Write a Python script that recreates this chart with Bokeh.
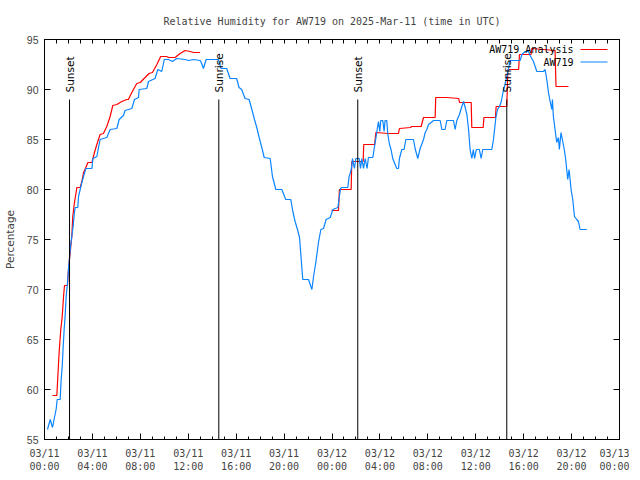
import math
from bokeh.plotting import figure
from bokeh.models import Range1d, FixedTicker, LinearAxis, Label, BoxAnnotation, ColumnDataSource
from bokeh.embed import file_html
from bokeh.resources import INLINE
from bokeh.core.properties import value

# ---------------- data ----------------
title_text = "Relative Humidity for AW719 on 2025-Mar-11 (time in UTC)"
y_label = "Percentage"
obs_name = "AW719"
ana_name = "AW719 Analysis"

# hours since 2025-03-11 00:00 UTC
obs_hours = [0.25, 0.48, 0.67, 0.83, 0.97, 1.06, 1.31, 1.39, 1.48, 1.56, 1.64, 1.72, 1.81, 1.92, 2.00,
             2.17, 2.28, 2.39, 2.48, 2.56, 2.78, 2.84, 2.98, 3.12, 3.26, 3.45, 3.96, 4.04, 4.37, 4.64,
             5.20, 5.48, 6.04, 6.23, 6.59, 6.73, 7.29, 7.51, 7.85, 7.90, 8.54, 8.68, 9.23, 9.46, 9.79,
             10.00, 10.35, 10.68, 11.04, 11.74, 12.02, 12.44, 12.99, 13.08, 13.27, 13.49, 14.52, 14.74,
             15.21, 15.49, 16.04, 16.24, 16.46, 16.74, 17.08, 17.31, 17.53, 17.72, 17.92, 18.14, 18.34,
             18.84, 19.03, 19.31, 19.81, 20.14, 20.56, 20.73, 20.92, 21.12, 21.29, 21.43, 21.56, 22.04,
             22.32, 22.46, 22.65, 22.87, 23.07, 23.29, 23.51, 23.85, 24.07, 24.49, 24.62, 24.71, 24.82,
             25.32, 25.43, 25.54, 25.65, 25.71, 25.87, 25.99, 26.27, 26.38, 26.49, 26.63, 26.77, 26.93,
             27.04, 27.41, 27.52, 27.66, 27.77, 27.88, 27.99, 28.07, 28.24, 28.35, 28.43, 28.57, 28.66,
             28.80, 28.93, 29.07, 29.27, 29.41, 29.55, 29.63, 29.83, 30.02, 30.16, 30.80, 30.94, 31.16,
             31.36, 31.64, 31.78, 31.92, 32.06, 32.48, 33.03, 33.17, 33.44, 33.58, 34.14, 34.28, 34.42,
             34.64, 34.84, 34.98, 35.12, 35.26, 35.40, 35.53, 35.67, 35.80, 35.90, 36.05, 36.30, 36.45,
             36.58, 37.34, 37.48, 37.68, 37.82, 37.98, 38.13, 38.27, 38.40, 38.59, 38.73, 38.87, 39.71,
             39.85, 40.12, 40.40, 40.54, 40.82, 41.10, 41.65, 41.79, 41.93, 42.07, 42.21, 42.35, 42.40,
             42.48, 42.62, 42.76, 42.90, 42.98, 43.12, 43.23, 43.39, 43.51, 43.68, 43.79, 43.96, 44.10,
             44.24, 44.43, 44.57, 44.71, 45.27]
obs_rh = [56.0, 57.0, 56.2, 57.2, 58.0, 59.0, 59.0, 61.0, 62.3, 64.3, 66.0, 67.3, 69.3, 70.7, 72.0,
          74.3, 75.3, 76.3, 77.5, 78.2, 78.2, 79.3, 80.0, 80.7, 81.3, 82.1, 82.1, 83.1, 83.3, 85.0,
          85.2, 86.0, 86.1, 87.0, 87.4, 87.9, 88.1, 89.0, 89.2, 90.0, 90.1, 90.8, 91.1, 92.0, 91.8,
          93.0, 93.0, 92.8, 93.1, 93.0, 92.9, 93.0, 92.9, 92.7, 92.1, 93.0, 93.0, 92.1,
          92.1, 91.1, 91.1, 90.2, 90.0, 89.1, 89.0, 88.0, 87.0, 86.2, 85.2, 84.2, 83.2,
          83.1, 81.3, 80.0, 80.0, 79.0, 79.0, 77.8, 76.8, 76.0, 75.2, 73.0, 71.0, 71.0,
          70.0, 71.3, 72.7, 74.7, 76.0, 76.1, 77.0, 77.2, 78.0, 78.2, 79.3, 80.1, 80.2,
          80.2, 81.3, 81.7, 82.3, 83.1, 82.1, 83.1, 83.1, 82.1, 83.1, 82.1, 83.1, 82.1,
          83.2, 83.2, 84.1, 85.1, 86.0, 86.8, 85.8, 86.9, 86.9, 85.8, 86.9, 86.9, 85.5,
          84.5, 84.0, 83.1, 82.5, 82.1, 82.1, 83.1, 84.0, 84.0, 85.0, 85.0, 84.1, 83.1,
          84.1, 85.0, 85.7, 86.0, 86.5, 86.9, 86.9, 86.0, 86.0, 86.9, 86.9, 86.0, 86.9,
          87.5, 88.3, 88.8, 88.2, 87.5, 86.0, 84.0, 83.1, 84.0, 83.1, 84.0, 84.0, 83.1,
          84.0, 84.0, 85.0, 87.2, 88.0, 88.3, 88.8, 89.7, 90.3, 91.3, 92.0, 92.9, 92.9,
          93.5, 93.8, 93.8, 93.4, 92.8, 91.8, 91.8, 92.0, 91.0, 89.7, 88.8, 88.0, 89.0,
          87.3, 86.0, 84.7, 85.2, 84.0, 85.7, 85.0, 84.0, 83.0, 81.0, 82.0, 80.0, 79.0,
          77.3, 77.0, 76.8, 76.0, 76.0]

nan = float("nan")
ana_hours = [0.67, 1.03, 1.11, 1.22, 1.36, 1.48, 1.59, 1.67, 1.92, 2.00, 2.28, 2.36, 2.50, 2.64, 2.70,
             2.98, 3.12, 3.26, 3.45, 3.62, 3.96, 4.17, 4.37, 4.64, 4.92, 5.20, 5.48, 5.70, 6.04, 6.45,
             6.87, 7.00, 7.29, 7.70, 7.98, 8.40, 8.73, 9.01, 9.38, 9.70, 10.20, 10.35, 10.90, 11.32,
             11.74, 12.16, 12.44, 12.99, 18.0,
             23.96, 24.54, 24.62, 25.60, 25.65, 26.60, 26.65, 27.56, 27.66, 28.70, 29.55, 29.63, 30.55,
             30.66, 31.44, 31.64, 32.61, 32.66, 33.60, 34.58, 34.64, 35.62, 35.67, 36.62, 36.68, 37.65,
             37.70, 38.59, 38.68, 39.58, 39.65, 40.62, 40.68, 42.62, 42.70, 43.74]
ana_rh = [59.4, 59.4, 61.2, 63.7, 66.0, 67.3, 69.3, 70.4, 70.4, 72.0, 75.3, 77.3, 78.7, 79.7, 80.2,
          80.2, 80.8, 81.7, 82.2, 82.7, 82.7, 83.7, 84.5, 85.5, 85.6, 86.3, 87.3, 88.4, 88.5, 88.8,
          89.0, 89.0, 89.7, 90.6, 90.7, 91.2, 91.6, 91.7, 92.5, 93.3, 93.3, 93.2, 93.2, 93.6,
          93.9, 93.8, 93.7, 93.7, nan,
          77.9, 77.9, 80.0, 80.0, 82.8, 82.8, 84.5, 84.5, 85.7, 85.6, 85.6, 86.1, 86.2,
          86.3, 86.3, 87.2, 87.2, 89.2, 89.2, 89.1, 88.7, 88.7, 86.2, 86.2, 87.2, 87.2,
          88.3, 88.3, 92.0, 92.0, 93.5, 93.5, 94.1, 93.9, 90.3, 90.3]

event_hours = [2.09, 14.55, 26.15, 38.59]
event_names = ["Sunset", "Sunrise", "Sunset", "Sunrise"]
event_line_top = 89

x_tick_hours = [0, 4, 8, 12, 16, 20, 24, 28, 32, 36, 40, 44, 48]
x_tick_labels = ["03/11\n00:00", "03/11\n04:00", "03/11\n08:00", "03/11\n12:00", "03/11\n16:00",
                 "03/11\n20:00", "03/12\n00:00", "03/12\n04:00", "03/12\n08:00", "03/12\n12:00",
                 "03/12\n16:00", "03/12\n20:00", "03/13\n00:00"]
x_minor_hours = list(range(0, 49))
y_ticks = [55, 60, 65, 70, 75, 80, 85, 90, 95]

RED = "#ff0000"
BLUE = "#0a84ff"
MONO = "DejaVu Sans Mono"
SANS = "DejaVu Sans"

# ---------------- figure ----------------
p = figure(frame_width=575, frame_height=400, output_backend="svg", toolbar_location=None,
           x_range=Range1d(0, 48), y_range=Range1d(55, 95),
           min_border_left=38, min_border_right=10, min_border_top=39, min_border_bottom=30,
           x_axis_location=None, y_axis_location=None)
p.xgrid.visible = False
p.ygrid.visible = False
p.outline_line_color = "black"
p.outline_line_width = 1
p.background_fill_color = "white"
p.border_fill_color = "white"

p.title.text = title_text
p.title.align = "center"
p.title.text_font = MONO
p.title.text_font_size = "10px"
p.title.text_font_style = "normal"
p.title.standoff = 26

xt = FixedTicker(ticks=x_tick_hours, minor_ticks=x_minor_hours)
yt = FixedTicker(ticks=y_ticks, minor_ticks=[])


def style_axis(ax):
    ax.axis_line_color = "black"
    ax.major_tick_line_color = "black"
    ax.minor_tick_line_color = "black"
    ax.major_tick_in = 6
    ax.major_tick_out = 0
    ax.minor_tick_in = 3
    ax.minor_tick_out = 0


xb = LinearAxis(ticker=xt)
style_axis(xb)
xb.major_label_overrides = {t: l for t, l in zip(x_tick_hours, x_tick_labels)}
xb.major_label_text_font = MONO
xb.major_label_text_font_size = "10px"
xb.major_label_standoff = 8
p.add_layout(xb, "below")

yl = LinearAxis(ticker=yt, axis_label=y_label)
style_axis(yl)
yl.major_label_text_font = "Liberation Sans"
yl.major_label_text_font_size = "10.5px"
yl.major_label_standoff = 6
yl.axis_label_text_font = SANS
yl.axis_label_text_font_size = "10.5px"
yl.axis_label_text_font_style = "normal"
yl.axis_label_standoff = 8
p.add_layout(yl, "left")

# mirrored ticks on top and right (ticks only, no labels)
xa = LinearAxis(ticker=FixedTicker(ticks=[], minor_ticks=x_minor_hours))
style_axis(xa)
xa.minor_tick_in = 4
p.add_layout(xa, "above")

yr = LinearAxis(ticker=FixedTicker(ticks=[], minor_ticks=y_ticks))
style_axis(yr)
yr.minor_tick_in = 6
p.add_layout(yr, "right")

# ---------------- data glyphs ----------------
obs_src = ColumnDataSource(dict(x=obs_hours, y=obs_rh))
ana_src = ColumnDataSource(dict(x=ana_hours, y=ana_rh))
p.line("x", "y", source=ana_src, line_color=RED, line_width=1.2)
p.line("x", "y", source=obs_src, line_color=BLUE, line_width=1.2)

ev_src = ColumnDataSource(dict(x=event_hours, y0=[55] * len(event_hours),
                               y1=[event_line_top] * len(event_hours), name=event_names))
p.segment(x0="x", y0="y0", x1="x", y1="y1", source=ev_src, line_color="black", line_width=1)
p.text(x="x", y="y1", text="name", source=ev_src, angle=math.pi / 2,
       text_align="left", text_baseline="middle", y_offset=-7,
       text_font=value(SANS), text_font_size="10.5px", text_color="black")

# ---------------- legend (gnuplot style: label then sample) ----------------
for i, (name, col) in enumerate([(ana_name, RED), (obs_name, BLUE)]):
    ypos = 390 - 12.5 * i
    p.add_layout(Label(x=529, y=ypos, x_units="screen", y_units="screen", text=name,
                       text_align="right", text_baseline="middle", text_font=MONO,
                       text_font_size="10px", text_color="black"))
    p.add_layout(BoxAnnotation(left=536, right=563, bottom=ypos - 0.6, top=ypos + 0.6,
                               left_units="screen", right_units="screen",
                               bottom_units="screen", top_units="screen",
                               fill_color=col, fill_alpha=1, line_alpha=0))

open("out.html", "w").write(file_html(p, INLINE))
